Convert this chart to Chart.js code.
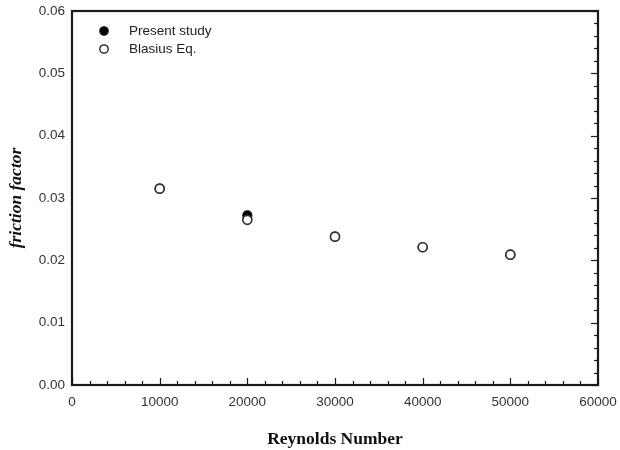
<!DOCTYPE html>
<html lang="en">
<head>
    <meta charset="UTF-8">
    <title>Friction factor vs Reynolds number</title>
    <script src="https://cdn.jsdelivr.net/npm/chart.js"></script>
    <style>
        body { margin: 0; background: #fff; }
        #wrap { width: 620px; height: 450px; }
    </style>
</head>
<body>
    <div id="wrap"><canvas id="frictionChart" width="620" height="450"></canvas></div>
    <script>
        // values
        const reynolds = [10000, 20000, 30000, 40000, 50000];
        const presentStudy = [0.0315, 0.0272, 0.0238, 0.0221, 0.0209];
        const blasiusEq = [0.0315, 0.0265, 0.0238, 0.0221, 0.0209];
        const xTicks = [0, 10000, 20000, 30000, 40000, 50000, 60000];
        const yTicks = [0.00, 0.01, 0.02, 0.03, 0.04, 0.05, 0.06];

        function toPoints(ys) {
            return reynolds.map((x, i) => ({ x: x, y: ys[i] }));
        }

        // frame, inward ticks (bottom + right) and the legend inside the plot
        const framePlugin = {
            id: 'frame',
            afterDatasetsDraw(chart) {
                const { ctx, chartArea: a, scales: { x, y } } = chart;
                ctx.save();
                ctx.strokeStyle = '#1a1a1a';
                ctx.lineWidth = 1.2;
                // bottom ticks, minor every 2000
                for (let v = 0; v <= 60000; v += 2000) {
                    const px = Math.round(x.getPixelForValue(v)) + 0.5;
                    const len = v % 10000 === 0 ? 7 : 4;
                    ctx.beginPath();
                    ctx.moveTo(px, a.bottom);
                    ctx.lineTo(px, a.bottom - len);
                    ctx.stroke();
                }
                // right ticks, minor every 0.002
                for (let i = 0; i <= 30; i++) {
                    const py = Math.round(y.getPixelForValue(i * 0.002)) + 0.5;
                    const len = i % 5 === 0 ? 7 : 4;
                    ctx.beginPath();
                    ctx.moveTo(a.right, py);
                    ctx.lineTo(a.right - len, py);
                    ctx.stroke();
                }
                ctx.lineWidth = 2.2;
                ctx.strokeRect(a.left, a.top, a.right - a.left, a.bottom - a.top);

                // legend
                ctx.font = '13.5px "Liberation Sans", Arial, sans-serif';
                ctx.textBaseline = 'middle';
                chart.data.datasets.forEach((ds, i) => {
                    const cy = a.top + 20 + i * 18;
                    const cx = a.left + 32;
                    ctx.beginPath();
                    ctx.arc(cx, cy, 4.2, 0, Math.PI * 2);
                    ctx.fillStyle = ds.backgroundColor;
                    ctx.fill();
                    ctx.lineWidth = 1.3;
                    ctx.strokeStyle = '#111';
                    ctx.stroke();
                    ctx.fillStyle = '#222';
                    ctx.fillText(ds.label, a.left + 57, cy);
                });
                ctx.restore();
            }
        };

        const tickFont = { family: '"Liberation Sans", Arial, sans-serif', size: 13.5 };

        const ctx = document.getElementById('frictionChart').getContext('2d');
        new Chart(ctx, {
            type: 'scatter',
            data: {
                datasets: [{
                    label: 'Present study',
                    data: toPoints(presentStudy),
                    backgroundColor: '#000',
                    borderColor: '#000',
                    borderWidth: 1.2,
                    pointRadius: 4.5,
                    order: 2
                }, {
                    label: 'Blasius Eq.',
                    data: toPoints(blasiusEq),
                    backgroundColor: '#fff',
                    borderColor: '#333',
                    borderWidth: 1.7,
                    pointRadius: 4.5,
                    order: 1
                }]
            },
            options: {
                responsive: false,
                animation: false,
                layout: { padding: { left: 0, right: 22, top: 11, bottom: 0 } },
                plugins: {
                    legend: { display: false },
                    tooltip: { enabled: false }
                },
                scales: {
                    x: {
                        type: 'linear',
                        min: 0,
                        max: 60000,
                        afterBuildTicks: s => { s.ticks = xTicks.map(v => ({ value: v })); },
                        grid: { display: false, drawTicks: false },
                        border: { display: false },
                        ticks: {
                            padding: 9,
                            maxRotation: 0,
                            color: '#333',
                            font: tickFont,
                            callback: v => String(v)
                        },
                        title: {
                            display: true,
                            text: 'Reynolds Number',
                            color: '#111',
                            padding: { top: 11, bottom: 0 },
                            font: { family: '"Liberation Serif", "Times New Roman", serif', size: 17.5, weight: 'bold' }
                        },
                        afterFit: s => { s.height = 65; s.paddingLeft = 0; s.paddingRight = 0; }
                    },
                    y: {
                        type: 'linear',
                        min: 0,
                        max: 0.06,
                        afterBuildTicks: s => { s.ticks = yTicks.map(v => ({ value: v })); },
                        grid: { display: false, drawTicks: false },
                        border: { display: false },
                        ticks: {
                            padding: 7,
                            color: '#333',
                            font: tickFont,
                            callback: v => v.toFixed(2)
                        },
                        title: {
                            display: true,
                            text: 'friction factor',
                            color: '#111',
                            padding: { top: 6, bottom: 10 },
                            font: { family: '"Liberation Serif", "Times New Roman", serif', size: 17.5, weight: 'bold', style: 'italic' }
                        },
                        afterFit: s => { s.width = 72; s.paddingTop = 0; s.paddingBottom = 0; }
                    }
                }
            },
            plugins: [framePlugin]
        });
    </script>
</body>
</html>
